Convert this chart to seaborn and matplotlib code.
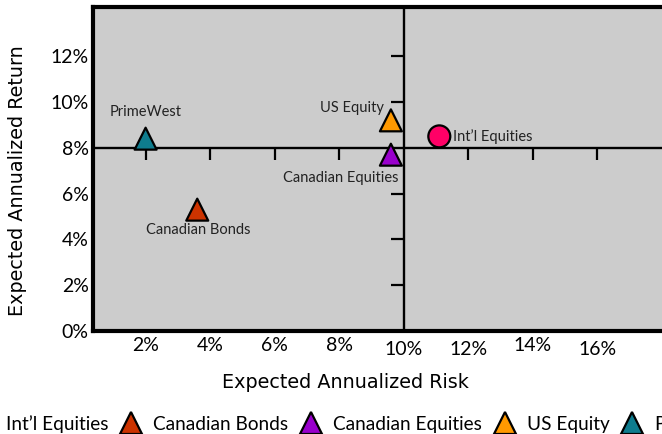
import matplotlib
matplotlib.use("Agg")
import matplotlib.pyplot as plt
import seaborn as sns
import pandas as pd
from matplotlib.lines import Line2D
from matplotlib.ticker import FuncFormatter

# ---- data ----
names = ["Int\u2019l Equities", "Canadian Bonds", "Canadian Equities", "US Equity", "PrimeWest"]
risk = [11.1, 3.6, 9.6, 9.6, 2.0]
ret = [8.5, 5.3, 7.7, 9.2, 8.4]
colors = ["#FF0066", "#CC3300", "#9900CC", "#FF9900", "#0E7C8E"]
marker_shapes = ["o", "^", "^", "^", "^"]
x_ticks = [2, 4, 6, 8, 10, 12, 14, 16]
y_ticks = [0, 2, 4, 6, 8, 10, 12]
x_cross = 10
y_cross = 8

# label offsets (points) and alignment
label_pos = {
    "Int\u2019l Equities": ((10, 0), "left", "center"),
    "Canadian Bonds": ((1, -15), "center", "center"),
    "Canadian Equities": ((-36, -17), "center", "center"),
    "US Equity": ((-28, 9), "center", "center"),
    "PrimeWest": ((0, 19), "center", "center"),
}

plt.rcParams['font.family'] = ['Lato', 'DejaVu Sans']

df = pd.DataFrame({"name": names, "risk": risk, "ret": ret})
palette = dict(zip(names, colors))
markers = dict(zip(names, marker_shapes))

fig = plt.figure(figsize=(6.62, 4.34), dpi=100)
rect = [93 / 662, 1 - 331 / 434, 1 - 93 / 662, (331 - 7) / 434]
xlim = (0.37, 18.0)
ylim = (0, 14.15)

# background axes: outer frame + tick labels
ax = fig.add_axes(rect)
ax.set_facecolor("#CCCCCC")
ax.set_xlim(*xlim)
ax.set_ylim(*ylim)
for s in ["left", "top", "bottom"]:
    ax.spines[s].set_linewidth(3)
    ax.spines[s].set_color("black")
ax.spines["right"].set_visible(False)
ax.set_xticks(x_ticks)
ax.set_yticks(y_ticks)
pct = FuncFormatter(lambda v, p: f"{v:.0f}%")
ax.xaxis.set_major_formatter(pct)
ax.yaxis.set_major_formatter(pct)
ax.tick_params(axis="both", length=0, labelsize=14, colors="black")
ax.tick_params(axis="x", pad=4.5)
ax.tick_params(axis="y", pad=3)
ax.set_xlabel("Expected Annualized Risk", fontsize=13.8, family=["DejaVu Sans"])
ax.set_ylabel("Expected Annualized Return", fontsize=13.8, family=["DejaVu Sans"])
ax.xaxis.set_label_coords((345 - 93) / 569, (331 - 373) / 324)
ax.yaxis.set_label_coords((27 - 93) / 569, (331 - 181) / 324)
for i in (4, 5, 7):
    ax.xaxis.get_major_ticks()[i].set_pad(7.3)

# overlay axes: crossing lines with ticks and the points
ax2 = fig.add_axes(rect)
ax2.patch.set_visible(False)
ax2.set_xlim(*xlim)
ax2.set_ylim(*ylim)
ax2.spines["top"].set_visible(False)
ax2.spines["right"].set_visible(False)
ax2.spines["left"].set_position(("data", x_cross))
ax2.spines["bottom"].set_position(("data", y_cross))
ax2.spines["left"].set_linewidth(1.7)
ax2.spines["bottom"].set_linewidth(1.7)
ax2.set_xticks([t for t in x_ticks if t != x_cross])
ax2.set_yticks([t for t in y_ticks if t not in (0, y_cross)])
ax2.tick_params(axis="x", direction="out", length=8.5, width=1.6, labelbottom=False)
ax2.tick_params(axis="y", direction="out", length=9.5, width=1.6, labelleft=False)

sns.scatterplot(data=df, x="risk", y="ret", hue="name", style="name",
                palette=palette, markers=markers, s=250, edgecolor="black",
                linewidth=1.6, legend=False, ax=ax2, zorder=5, clip_on=False)
ax2.set_xlabel("")
ax2.set_ylabel("")

for n, x, y in zip(names, risk, ret):
    off, ha, va = label_pos[n]
    ax2.annotate(n, (x, y), xytext=off, textcoords="offset points",
                 ha=ha, va=va, fontsize=10.5, color="#222222", zorder=6)

handles = [Line2D([], [], marker=m, linestyle="none", markerfacecolor=c,
                  markeredgecolor="black", markeredgewidth=1.6, markersize=15.5)
           for m, c in zip(marker_shapes, colors)]
fig.legend(handles, names, loc="center", bbox_to_anchor=(360 / 662, 1 - 424 / 434),
           ncol=5, frameon=False, fontsize=13.7, handlelength=1.2,
           handletextpad=0.55, columnspacing=0.6, borderaxespad=0)

fig.savefig("out.png", dpi=100)
